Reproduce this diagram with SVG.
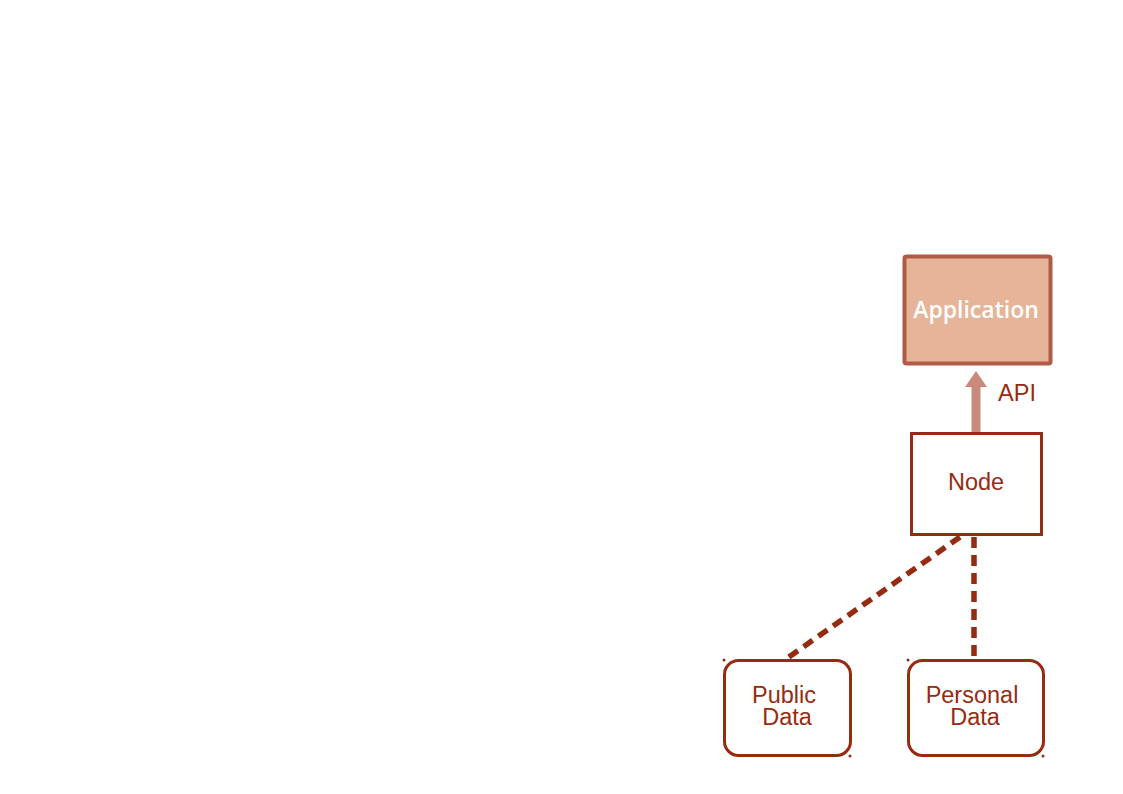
<svg xmlns="http://www.w3.org/2000/svg" width="1123" height="794" viewBox="0 0 1123 794">
<style>
.lbl{font-family:"Liberation Sans",Arial,sans-serif;font-size:23.5px;fill:#952c12;text-anchor:middle}
.box{fill:#fff;stroke:#952c12;stroke-width:3}
.dash{stroke:#952c12;stroke-width:5.5;stroke-dasharray:11 7;fill:none}
.dot{fill:#952c12}
</style>
<rect width="1123" height="794" fill="#fff"/>
<g id="connectors">
<line class="dash" x1="960" y1="537" x2="786" y2="659"/>
<line class="dash" x1="974" y1="537" x2="974" y2="659"/>
<line x1="976" y1="433" x2="976" y2="385" stroke="#c98a7c" stroke-width="9"/>
<polygon points="965,387 987,387 976,371" fill="#c98a7c"/>
<text class="lbl" x="1017" y="401">API</text>
</g>
<g id="application">
<rect x="904.5" y="256.5" width="146" height="107" rx="2" fill="#e6b498" stroke="#b05a48" stroke-width="4"/>
<text x="976" y="318" font-family="'Open Sans',sans-serif" font-size="23" font-weight="600" fill="#fff" text-anchor="middle">Application</text>
</g>
<g id="node">
<rect class="box" x="911.5" y="433.5" width="130" height="101"/>
<text class="lbl" x="976" y="490">Node</text>
</g>
<g id="public-data">
<rect class="box" x="724.5" y="660.5" width="126" height="95" rx="14"/>
<circle class="dot" cx="724" cy="660" r="1.5"/>
<circle class="dot" cx="850" cy="756" r="1.5"/>
<text class="lbl" x="784" y="703">Public</text>
<text class="lbl" x="787" y="725">Data</text>
</g>
<g id="personal-data">
<rect class="box" x="908.5" y="660.5" width="135" height="95" rx="14"/>
<circle class="dot" cx="908" cy="660" r="1.5"/>
<circle class="dot" cx="1043" cy="756" r="1.5"/>
<text class="lbl" x="972" y="703">Personal</text>
<text class="lbl" x="975" y="725">Data</text>
</g>
</svg>
